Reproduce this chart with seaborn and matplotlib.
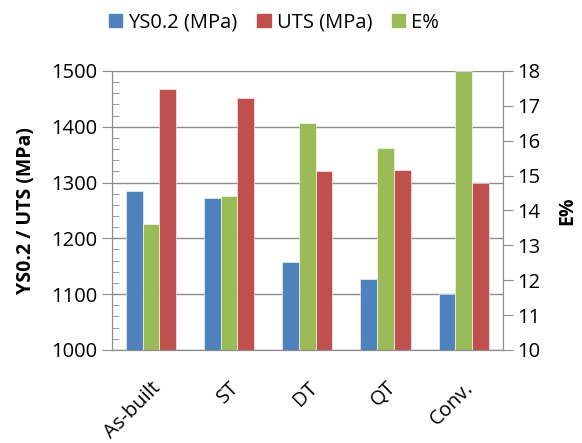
import numpy as np
import pandas as pd
import seaborn as sns
import matplotlib.pyplot as plt
from matplotlib.patches import Patch

conditions = ['As-built', 'ST', 'DT', 'QT', 'Conv.']
ys02 = [1285, 1273, 1157, 1128, 1100]
uts = [1468, 1451, 1321, 1323, 1300]
elong = [13.6, 14.4, 16.5, 15.8, 18.0]

names = ['YS0.2 (MPa)', 'E%', 'UTS (MPa)']  # bar order inside a group
colors = {'YS0.2 (MPa)': '#4F81BD', 'UTS (MPa)': '#C0504D', 'E%': '#9BBB59'}

sns.set_style('white')
plt.rcParams['font.family'] = ['Open Sans', 'DejaVu Sans']
plt.rcParams['text.color'] = 'black'
plt.rcParams['axes.labelcolor'] = 'black'
plt.rcParams['xtick.labelcolor'] = 'black'
plt.rcParams['ytick.labelcolor'] = 'black'

left_df = pd.DataFrame({
    'cond': conditions * 2,
    'val': ys02 + uts,
    'series': ['YS0.2 (MPa)'] * 5 + ['UTS (MPa)'] * 5,
})
right_df = pd.DataFrame({'cond': conditions, 'val': elong, 'series': ['E%'] * 5})

fig = plt.figure(figsize=(5.82, 4.43), dpi=100)
ax = fig.add_axes([0.192, 0.21, 0.672, 0.63])
ax2 = ax.twinx()

sns.barplot(data=left_df, x='cond', y='val', hue='series', hue_order=names,
            palette=colors, width=0.64, ax=ax, legend=False, saturation=1,
            dodge=True, edgecolor='white', linewidth=0.4)
sns.barplot(data=right_df, x='cond', y='val', hue='series', hue_order=names,
            palette=colors, width=0.64, ax=ax2, legend=False, saturation=1,
            dodge=True, edgecolor='white', linewidth=0.4)

grey = '#8c8c8c'
ax.set_ylim(1000, 1500)
ax.set_yticks(np.arange(1000, 1501, 100))
ax.set_yticks(np.arange(1000, 1501, 20), minor=True)
ax.yaxis.grid(True, color=grey, lw=1)
ax.set_axisbelow(True)
ax2.set_ylim(10, 18)
ax2.set_yticks(np.arange(10, 19, 1))
ax.set_xlim(-0.5, 4.5)

ax.set_xticks(range(len(conditions)))
ax.set_xticklabels(conditions, rotation=45, ha='right', rotation_mode='anchor')
ax.set_xticks(np.arange(-0.5, 5, 1), minor=True)
ax.tick_params(axis='x', which='major', length=0, pad=20, labelsize=14.5)
ax.tick_params(axis='x', which='minor', length=6, color=grey, direction='out')
ax.tick_params(axis='y', which='major', length=7, color=grey, direction='out', labelsize=14.5)
ax.tick_params(axis='y', which='minor', length=5, color=grey, direction='in')
ax2.tick_params(axis='y', length=7, color=grey, direction='out', labelsize=14.5)

for a in (ax, ax2):
    for s in a.spines.values():
        s.set_color(grey)
    a.spines['top'].set_visible(False)

ax.set_xlabel('')
ax.set_ylabel('YS0.2 / UTS (MPa)', fontsize=14, fontweight='bold', labelpad=11)
ax2.set_ylabel('E%', fontsize=14, fontweight='bold', labelpad=12)

handles = [Patch(color=colors[n]) for n in ['YS0.2 (MPa)', 'UTS (MPa)', 'E%']]
fig.legend(handles, ['YS0.2 (MPa)', 'UTS (MPa)', 'E%'], loc='upper center',
           bbox_to_anchor=(0.471, 1.012), ncol=3, frameon=False, fontsize=14.5,
           handlelength=0.65, handleheight=0.65, handletextpad=0.3, columnspacing=1.0)

fig.savefig('out.png', dpi=100)
